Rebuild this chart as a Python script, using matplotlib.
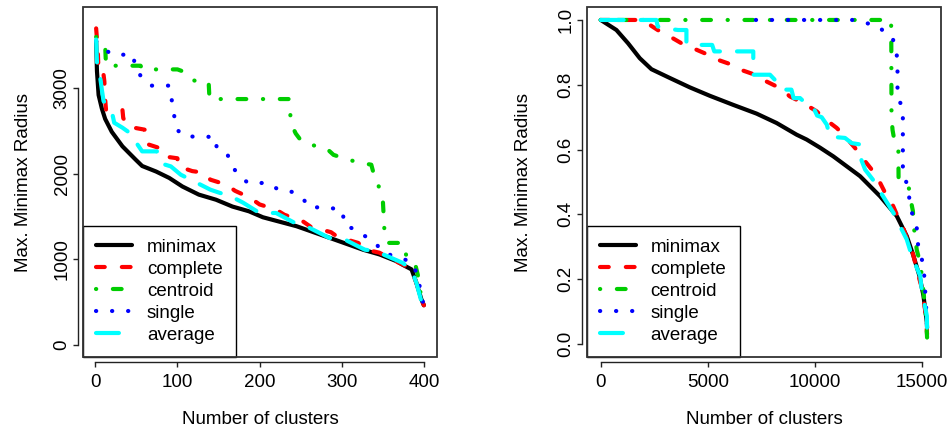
import matplotlib
matplotlib.use('Agg')
import matplotlib.pyplot as plt
from matplotlib.patches import Rectangle

plt.rcParams['font.family'] = ['Liberation Sans', 'DejaVu Sans']

# ---------------- data ----------------
methods = ['minimax', 'complete', 'centroid', 'single', 'average']

# left panel (Max. Minimax Radius vs number of clusters, 1..400)
L_minimax_x = [1, 2, 4, 8, 12, 20, 33, 49, 57, 74, 90, 106, 126, 147, 167, 187, 204, 245, 285, 326, 346, 367, 374, 385, 391, 397, 400]
L_minimax_y = [3550, 3200, 2920, 2760, 2640, 2490, 2320, 2165, 2090, 2025, 1950, 1850, 1755, 1695, 1615, 1560, 1490, 1385, 1250, 1110, 1055, 975, 935, 880, 720, 530, 460]

L_complete_x = [1, 3, 4, 10, 11, 12, 13, 33, 34, 40, 60, 62, 78, 85, 100, 101, 118, 133, 140, 160, 170, 188, 200, 220, 230, 253, 262, 287, 295, 320, 330, 346, 360, 375, 385, 391, 397, 400]
L_complete_y = [3700, 3450, 3160, 3160, 3080, 2870, 2750, 2750, 2650, 2550, 2515, 2350, 2300, 2200, 2180, 2085, 2030, 2010, 1930, 1870, 1800, 1720, 1640, 1580, 1520, 1440, 1380, 1315, 1260, 1190, 1110, 1075, 1000, 935, 877, 720, 530, 460]

L_centroid_x = [1, 12, 13, 55, 58, 100, 110, 120, 138, 139, 236, 237, 238, 244, 251, 266, 281, 290, 306, 321, 336, 340, 346, 350, 351, 352, 356, 374, 379, 389, 393, 396, 400]
L_centroid_y = [3600, 3500, 3263, 3263, 3220, 3220, 3185, 3090, 3068, 2873, 2873, 2770, 2590, 2470, 2380, 2330, 2300, 2220, 2170, 2130, 2105, 1960, 1830, 1700, 1520, 1330, 1190, 1190, 1030, 960, 800, 600, 460]

L_single_x = [1, 10, 20, 46, 49, 58, 68, 90, 93, 96, 99, 108, 146, 148, 161, 167, 176, 186, 210, 223, 240, 253, 260, 283, 301, 303, 318, 330, 342, 351, 370, 386, 393, 397, 400]
L_single_y = [3550, 3470, 3392, 3392, 3225, 3110, 3030, 3030, 2865, 2680, 2520, 2436, 2430, 2290, 2222, 2078, 1970, 1891, 1891, 1813, 1786, 1708, 1606, 1606, 1571, 1403, 1337, 1259, 1176, 1072, 1020, 962, 790, 560, 460]

L_average_x = [1, 2, 6, 8, 10, 20, 23, 33, 45, 50, 57, 75, 80, 92, 104, 124, 140, 150, 165, 180, 200, 220, 243, 261, 285, 304, 328, 342, 374, 385, 391, 397, 400]
L_average_y = [3570, 3300, 3120, 2980, 2850, 2730, 2596, 2538, 2456, 2360, 2261, 2261, 2120, 2085, 1988, 1891, 1813, 1780, 1735, 1660, 1540, 1540, 1423, 1365, 1248, 1228, 1111, 1091, 957, 877, 720, 506, 460]

# right panel (normalised radius vs number of clusters, 1..~15240)
R_minimax_x = [1, 733, 1277, 1822, 2368, 3224, 4159, 5093, 6184, 7274, 8209, 9143, 9611, 10234, 10857, 12103, 13037, 13816, 14283, 14595, 14875, 15062, 15218, 15230]
R_minimax_y = [1.0, 0.969, 0.928, 0.882, 0.848, 0.821, 0.792, 0.766, 0.738, 0.711, 0.682, 0.646, 0.631, 0.606, 0.579, 0.518, 0.456, 0.395, 0.333, 0.272, 0.21, 0.149, 0.067, 0.05]

R_complete_x = [1, 1900, 2290, 2660, 3224, 3770, 4300, 4860, 5470, 6030, 6635, 7200, 7740, 8360, 8830, 9440, 10080, 10390, 11010, 11400, 11870, 12020, 12650, 12880, 13270, 13580, 13880, 14110, 14360, 14520, 14830, 14985, 15150, 15230]
R_complete_y = [1.0, 1.0, 0.985, 0.969, 0.949, 0.928, 0.913, 0.897, 0.877, 0.864, 0.844, 0.831, 0.81, 0.79, 0.764, 0.744, 0.718, 0.698, 0.667, 0.641, 0.605, 0.59, 0.538, 0.518, 0.467, 0.436, 0.39, 0.36, 0.313, 0.292, 0.21, 0.174, 0.10, 0.03]

R_centroid_x = [1, 13550, 13560, 13570, 13620, 13700, 13890, 13900, 14360, 14450, 14570, 14600, 14670, 14750, 14910, 14985, 15060, 15150, 15200, 15230]
R_centroid_y = [1.0, 1.0, 0.95, 0.70, 0.66, 0.63, 0.60, 0.51, 0.49, 0.45, 0.41, 0.37, 0.33, 0.29, 0.25, 0.21, 0.16, 0.11, 0.06, 0.02]

R_single_x = [7240, 11800, 12420, 13000, 13160, 13580, 13790, 13850, 13850, 14100, 14100, 14310, 14400, 14520, 14750, 14750, 14910, 15060, 15110, 15180, 15230]
R_single_y = [1.0, 1.0, 0.99, 0.98, 0.967, 0.951, 0.911, 0.865, 0.76, 0.73, 0.53, 0.49, 0.45, 0.405, 0.372, 0.323, 0.282, 0.241, 0.2, 0.12, 0.05]

R_average_x = [1, 2600, 2660, 2990, 3610, 4000, 4000, 4700, 5200, 5300, 7120, 7120, 7900, 8130, 8440, 8900, 9000, 9300, 9530, 9900, 10100, 10310, 10550, 10700, 11400, 11710, 12100, 12100, 12340, 12880, 13120, 13660, 13890, 14280, 14520, 14910, 14985, 15220, 15240]
R_average_y = [1.0, 1.0, 0.98, 0.974, 0.969, 0.969, 0.928, 0.923, 0.923, 0.903, 0.903, 0.831, 0.831, 0.815, 0.785, 0.785, 0.759, 0.759, 0.745, 0.733, 0.705, 0.70, 0.677, 0.64, 0.636, 0.62, 0.616, 0.579, 0.538, 0.492, 0.462, 0.405, 0.374, 0.323, 0.272, 0.21, 0.164, 0.087, 0.0]

L_xticks = [0, 100, 200, 300, 400]
L_yticks = [0, 1000, 2000, 3000]
R_xticks = [0, 5000, 10000, 15000]
R_yticks = [0.0, 0.2, 0.4, 0.6, 0.8, 1.0]
R_yticklabels = ['0.0', '0.2', '0.4', '0.6', '0.8', '1.0']
xlabel = 'Number of clusters'
ylabel = 'Max. Minimax Radius'

# ---------------- styling ----------------
FS = 13.5
LW = 3.0
colors = ['#000000', '#FF0000', '#00CD00', '#0000FF', '#00FFFF']
dashes = ['-', (0, (2.1, 4.1)), (0, (0.05, 4.0, 2.1, 4.0)), (0, (0.05, 3.8)), (0, (5.5, 4.1))]

fig = plt.figure(figsize=(9.53, 4.34), dpi=100)
axL = fig.add_axes([83 / 953, 77 / 434, 354 / 953, 350 / 434])
axR = fig.add_axes([587 / 953, 77 / 434, 354 / 953, 350 / 434])

left_series = [(L_minimax_x, L_minimax_y), (L_complete_x, L_complete_y), (L_centroid_x, L_centroid_y),
               (L_single_x, L_single_y), (L_average_x, L_average_y)]
right_series = [(R_minimax_x, R_minimax_y), (R_complete_x, R_complete_y), (R_centroid_x, R_centroid_y),
                (R_single_x, R_single_y), (R_average_x, R_average_y)]


def draw(ax, series):
    handles = []
    for (x, y), c, ls, name in zip(series, colors, dashes, methods):
        h, = ax.plot(x, y, color=c, lw=LW, linestyle=ls, dash_capstyle='round',
                     solid_capstyle='round', dash_joinstyle='round', solid_joinstyle='round', label=name)
        handles.append(h)
    return handles


def style(ax, xticks, xtl, yticks, ytl, xlim, ylim, ylab_x):
    ax.set_xlim(xlim)
    ax.set_ylim(ylim)
    for s in ['top', 'right']:
        ax.spines[s].set_visible(False)
    for s in ['left', 'bottom']:
        ax.spines[s].set_position(('outward', 3.8))
        ax.spines[s].set_linewidth(1.0)
        ax.spines[s].set_color('#222222')
    ax.spines['bottom'].set_bounds(xticks[0], xticks[-1])
    ax.spines['left'].set_bounds(yticks[0], yticks[-1])
    ax.set_xticks(xticks)
    ax.set_xticklabels(xtl)
    ax.set_yticks(yticks)
    ax.set_yticklabels(ytl, rotation=90, va='center')
    ax.tick_params(direction='out', length=3.6, width=1.0, color='#222222', labelsize=FS)
    ax.tick_params(axis='x', pad=5)
    ax.tick_params(axis='y', pad=1.5)
    ax.add_patch(Rectangle((0, 0), 1, 1, transform=ax.transAxes, fill=False, lw=1.3,
                           edgecolor='#333333', clip_on=False, zorder=6))
    ax.set_xlabel(xlabel, fontsize=FS)
    ax.xaxis.set_label_coords(0.5, -0.155)
    ax.set_ylabel(ylabel, fontsize=FS)
    ax.yaxis.set_label_coords(ylab_x, 0.5)
    ax.yaxis.label.set_va('center')


hL = draw(axL, left_series)
hR = draw(axR, right_series)
style(axL, L_xticks, [str(t) for t in L_xticks], L_yticks, [str(t) for t in L_yticks],
      (-15, 416), (-145, 3950), -0.168)
style(axR, R_xticks, [str(t) for t in R_xticks], R_yticks, R_yticklabels,
      (-640, 15880), (-0.04, 1.04), -0.178)

for ax, h in [(axL, hL), (axR, hR)]:
    leg = ax.legend(h, methods, loc='lower left', bbox_to_anchor=(0, 0), borderaxespad=0,
                    fancybox=False, framealpha=1, edgecolor='black', fontsize=FS,
                    handlelength=1.9, handletextpad=0.8, labelspacing=0.26, borderpad=0.7)
    leg.get_frame().set_linewidth(1.0)

fig.savefig('out.png', dpi=100)
